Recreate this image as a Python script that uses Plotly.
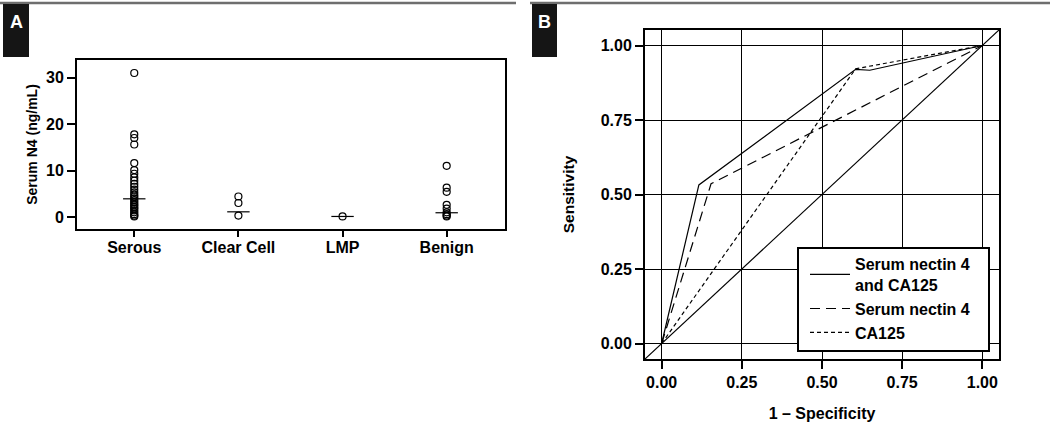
import plotly.graph_objects as go

W, H = 1050, 424

# ---------------- Panel A data ----------------
groups = ["Serous", "Clear Cell", "LMP", "Benign"]
serous_vals = [31.0, 17.8, 17.0, 15.6, 11.6, 10.1, 9.3, 8.5, 7.8, 7.1, 6.5, 5.9, 5.3,
               4.8, 4.4, 4.0, 3.6, 3.2, 2.8, 2.5, 2.1, 1.8, 1.4, 1.0, 0.6, 0.3, 0.1]
clear_vals = [4.4, 3.0, 0.3]
lmp_vals = [0.1]
benign_vals = [11.0, 6.3, 5.4, 2.6, 1.8, 1.0, 0.6, 0.3, 0.1]
group_medians = [3.9, 1.1, 0.1, 0.9]
a_yticks = [0, 10, 20, 30]

# ---------------- Panel B data ----------------
comb_fpr = [0.0, 0.116, 0.605, 0.649, 1.0]
comb_tpr = [0.0, 0.532, 0.920, 0.917, 1.0]
nectin_fpr = [0.0, 0.154, 1.0]
nectin_tpr = [0.0, 0.536, 1.0]
ca125_fpr = [0.0, 0.605, 1.0]
ca125_tpr = [0.0, 0.922, 1.0]
b_ticks = [0.0, 0.25, 0.50, 0.75, 1.00]
b_range = [-0.052, 1.052]

FONT = "Liberation Sans"


def px_x(p):
    return p / W


def px_y(p):
    return 1 - p / H


fig = go.Figure()

all_vals = [serous_vals, clear_vals, lmp_vals, benign_vals]
for g, vals in zip(groups, all_vals):
    fig.add_trace(go.Scatter(
        x=[g] * len(vals), y=vals, mode="markers",
        marker=dict(symbol="circle-open", size=7, color="black", line=dict(width=1.2)),
        showlegend=False, xaxis="x", yaxis="y", hoverinfo="y"))

fig.add_trace(go.Scatter(
    x=groups, y=group_medians, mode="markers",
    marker=dict(symbol="line-ew-open", size=16, color="black", line=dict(width=1.2, color="black")),
    showlegend=False, xaxis="x", yaxis="y"))

# Panel B
fig.add_trace(go.Scatter(x=b_range, y=b_range, mode="lines",
                         line=dict(color="black", width=1.2), showlegend=False,
                         xaxis="x2", yaxis="y2", hoverinfo="skip"))
fig.add_trace(go.Scatter(x=comb_fpr, y=comb_tpr, mode="lines", name="Serum nectin 4<br>and CA125",
                         line=dict(color="black", width=1.2), xaxis="x2", yaxis="y2"))
fig.add_trace(go.Scatter(x=nectin_fpr, y=nectin_tpr, mode="lines", name="Serum nectin 4",
                         line=dict(color="black", width=1.2, dash="10px,6px"), xaxis="x2", yaxis="y2"))
fig.add_trace(go.Scatter(x=ca125_fpr, y=ca125_tpr, mode="lines", name="CA125",
                         line=dict(color="black", width=1.2, dash="4px,3px"), xaxis="x2", yaxis="y2"))

fig.update_layout(
    template="none",
    width=W, height=H,
    margin=dict(l=0, r=0, t=0, b=0),
    paper_bgcolor="white", plot_bgcolor="white",
    font=dict(family=FONT, color="black"),
    xaxis=dict(domain=[px_x(77), px_x(505)], anchor="y", type="category",
               categoryorder="array", categoryarray=groups, range=[-0.55, 3.56],
               showline=True, linecolor="black", linewidth=2, mirror=True,
               ticks="outside", ticklen=6, tickwidth=1.5, tickcolor="black",
               showgrid=False, zeroline=False, ticklabelstandoff=-3, automargin=False,
               tickfont=dict(family=FONT, size=16, color="black", weight="bold")),
    yaxis=dict(domain=[px_y(229), px_y(60)], anchor="x", range=[-2.6, 33.8],
               tickvals=a_yticks, showline=True, linecolor="black", linewidth=2, mirror=True,
               ticks="outside", ticklen=8, tickwidth=1.5, tickcolor="black",
               showgrid=False, zeroline=False, automargin=False,
               tickfont=dict(family=FONT, size=16, color="black", weight="bold"),
               title=dict(text="Serum N4 (ng/mL)", standoff=5,
                          font=dict(family=FONT, size=14, color="black", weight="bold"))),
    xaxis2=dict(domain=[px_x(645), px_x(999)], anchor="y2", range=b_range,
                tickvals=b_ticks, tickformat=".2f",
                showline=True, linecolor="black", linewidth=2, mirror=True,
                ticks="outside", ticklen=8, tickwidth=1.5, tickcolor="black",
                showgrid=True, gridcolor="black", gridwidth=1, zeroline=False, automargin=False,
                tickfont=dict(family=FONT, size=16, color="black", weight="bold"),
                title=dict(text="1 – Specificity", standoff=18,
                           font=dict(family=FONT, size=16, color="black", weight="bold"))),
    yaxis2=dict(domain=[px_y(359), px_y(30)], anchor="x2", range=b_range,
                tickvals=b_ticks, tickformat=".2f",
                showline=True, linecolor="black", linewidth=2, mirror=True,
                ticks="outside", ticklen=8, tickwidth=1.5, tickcolor="black",
                showgrid=True, gridcolor="black", gridwidth=1, zeroline=False, automargin=False,
                tickfont=dict(family=FONT, size=16, color="black", weight="bold"),
                title=dict(text="Sensitivity", standoff=22,
                           font=dict(family=FONT, size=15.5, color="black", weight="bold"))),
    legend=dict(x=px_x(805), y=px_y(350), xanchor="left", yanchor="bottom",
                bgcolor="rgba(0,0,0,0)", borderwidth=0,
                font=dict(family=FONT, size=16, color="black", weight="bold"),
                tracegroupgap=2, itemwidth=40),
    showlegend=True,
)

shapes = [
    dict(type="line", xref="paper", yref="paper", x0=px_x(0), x1=px_x(516), y0=px_y(3), y1=px_y(3),
         line=dict(color="#6e6e6e", width=2.5)),
    dict(type="line", xref="paper", yref="paper", x0=px_x(530), x1=px_x(1050), y0=px_y(3), y1=px_y(3),
         line=dict(color="#6e6e6e", width=2.5)),
    dict(type="rect", xref="paper", yref="paper", x0=px_x(3), x1=px_x(29), y0=px_y(57), y1=px_y(4),
         fillcolor="#151515", line=dict(width=0)),
    dict(type="rect", xref="paper", yref="paper", x0=px_x(532), x1=px_x(557), y0=px_y(57), y1=px_y(4),
         fillcolor="#151515", line=dict(width=0)),
    # legend frame
    dict(type="rect", xref="paper", yref="paper", x0=px_x(798), x1=px_x(989), y0=px_y(351), y1=px_y(248),
         fillcolor="white", line=dict(color="black", width=2), layer="above"),
]
fig.update_layout(shapes=shapes)

for letter, cx in [("A", 16), ("B", 544.5)]:
    fig.add_annotation(text=letter, xref="paper", yref="paper", x=px_x(cx), y=px_y(22),
                       showarrow=False, xanchor="center", yanchor="middle",
                       font=dict(family=FONT, size=18, color="white", weight="bold"))

fig.write_html("out.html", config={"displayModeBar": False},
               post_script="document.body.style.margin='0';")
